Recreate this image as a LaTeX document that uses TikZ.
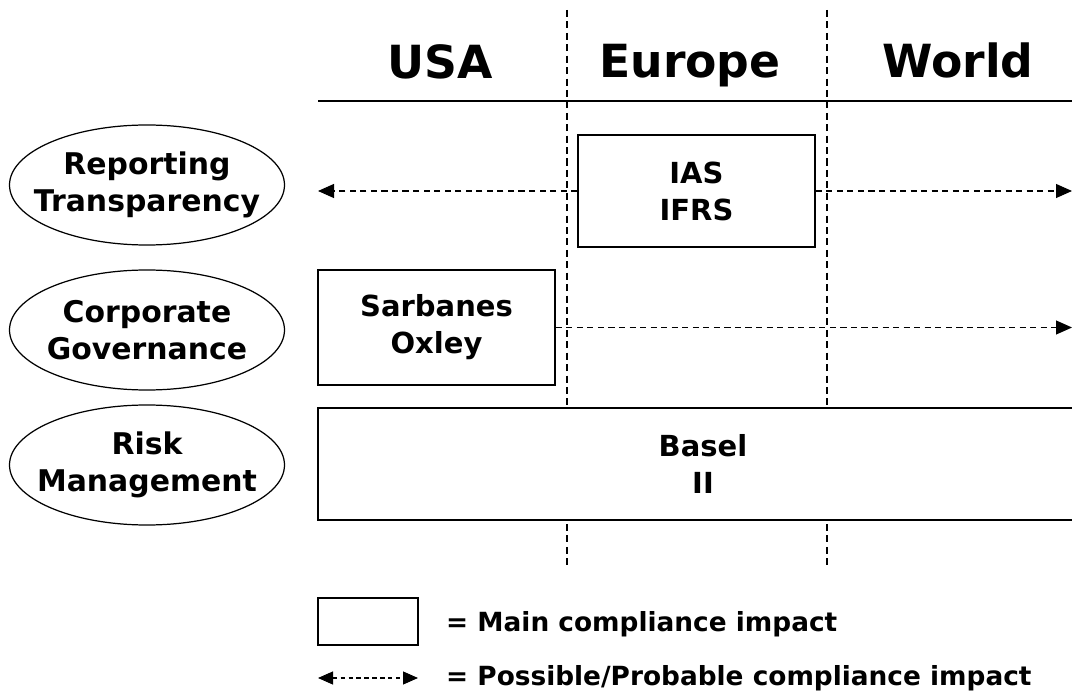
\documentclass[tikz,border=0pt]{standalone}
\usepackage{fontspec}
\setmainfont{DejaVu Sans}
\usetikzlibrary{shapes.geometric, arrows.meta, positioning}

\begin{document}
\begin{tikzpicture}[
    every node/.style={font=\bfseries\fontsize{16.5}{21}\selectfont},
    head/.style={font=\bfseries\fontsize{26}{30}\selectfont, anchor=base},
    keytext/.style={font=\bfseries\fontsize{15}{18}\selectfont, anchor=west},
    topic/.style={ellipse, draw, line width=0.7pt, minimum width=5.5cm, minimum height=2.4cm, inner xsep=-0.45cm, inner ysep=0pt, align=center, font=\bfseries\fontsize{17}{21}\selectfont},
    rule/.style={rectangle, draw, line width=0.8pt, align=center},
    colsep/.style={line width=0.6pt, dash pattern=on 4pt off 2.5pt},
    poss/.style={-{Triangle[length=3.2mm,width=2.8mm]}, line width=0.6pt, dash pattern=on 3.5pt off 2.5pt},
    poss2/.style={{Triangle[length=3mm,width=2.6mm]}-{Triangle[length=3mm,width=2.6mm]}, line width=0.6pt, dash pattern=on 2.5pt off 2pt}
]
\useasboundingbox (0,0) rectangle (21.44,-13.86);
% column headers and dividers
\node[head] (usa) at (8.8,-1.58) {USA};
\node[head] (eur) at (13.8,-1.55) {Europe};
\node[head] (world) at (19.16,-1.55) {World};
\coordinate (hl) at (6.36,-2.02);
\coordinate (hr) at (21.44,-2.02);
\draw[line width=0.8pt] (hl) -- (hr);
\coordinate (s1t) at (11.34,-0.2);
\coordinate (s1b) at (11.34,-11.3);
\coordinate (s2t) at (16.54,-0.2);
\coordinate (s2b) at (16.54,-11.3);
\draw[colsep] (s1t) -- (s1b);
\draw[colsep] (s2t) -- (s2b);
% topics
\node[topic] (rep) at (2.94,-3.7) {Reporting\\Transparency};
\node[topic] (gov) at (2.94,-6.6) {Corporate\\Governance};
\node[topic] (risk) at (2.94,-9.3) {Risk\\Management};
% regulations
\node[rule, fill=white, minimum width=4.74cm, minimum height=2.24cm] (ias) at (13.93,-3.82) {IAS\\IFRS};
\node[rule, fill=white, minimum width=4.74cm, minimum height=2.3cm] (sox) at (8.73,-6.55) {Sarbanes\\Oxley};
\node[rule, fill=white, minimum width=15.4cm, minimum height=2.24cm] (basel) at (14.06,-9.28) {Basel\\II};
\coordinate (repl) at (6.36,-3.82);
\coordinate (repr) at (21.44,-3.82);
\coordinate (govr) at (21.44,-6.55);
\draw[poss] (ias.west) -- (repl);
\draw[poss] (ias.east) -- (repr);
\draw[poss] (sox.east) -- (govr);
% legend
\node[rule, minimum width=2cm, minimum height=0.94cm] (key) at (7.36,-12.43) {};
\coordinate (kl) at (6.36,-13.56);
\coordinate (kr) at (8.36,-13.56);
\draw[poss2] (kl) -- (kr);
\node[keytext] (keyt) at (8.8,-12.48) {= Main compliance impact};
\node[keytext] (keyt2) at (8.8,-13.56) {= Possible/Probable compliance impact};
\end{tikzpicture}
\end{document}
